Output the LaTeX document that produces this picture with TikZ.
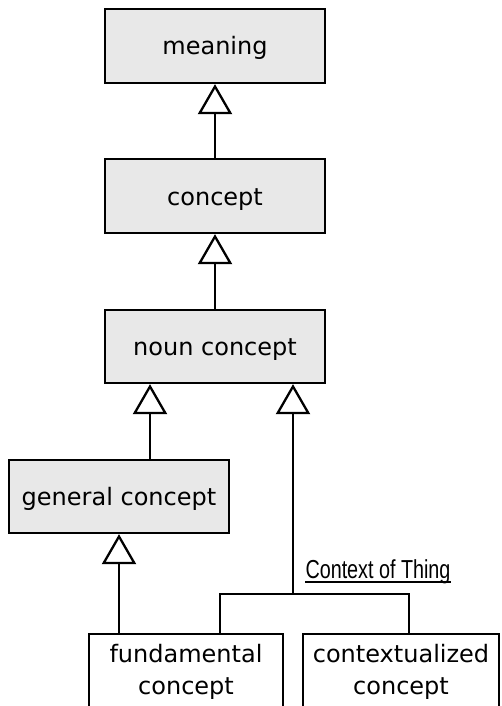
\documentclass[tikz,border=0pt]{standalone}
\usepackage{fontspec}
\setmainfont{DejaVu Sans}
\newfontfamily\narrowfont{Liberation Sans}[FakeStretch=0.76]
\usetikzlibrary{arrows.meta}
\definecolor{boxgray}{HTML}{E8E8E8}
\tikzset{
  classbox/.style={draw=black, line width=2.3pt, fill=boxgray, minimum width=220pt, minimum height=74pt, inner sep=0pt, text height=20pt, text depth=2pt, font=\fontsize{24}{28}\selectfont},
  plainbox/.style={draw=black, line width=2.3pt, fill=white, inner sep=0pt, align=center, font=\fontsize{24}{32}\selectfont},
  gen/.style={draw=black, line width=2.3pt, -{Triangle[open, length=30pt 0 0, width=34pt 0 0, fill=white]}},
  link/.style={draw=black, line width=2.3pt},
}
\begin{document}
\begin{tikzpicture}[x=1pt,y=-1pt]
\useasboundingbox (0,0) rectangle (501,706);
\begin{scope}
\clip (0,0) rectangle (501,706);
\node[classbox] (meaning) at (215,46) {meaning};
\node[classbox] (concept) at (215,196) {concept};
\node[classbox, minimum height=73pt] (noun) at (215,346.5) {noun concept};
\node[classbox, minimum height=73pt] (general) at (119,496.5) {general concept};
\node[plainbox, minimum width=194pt, minimum height=76pt] (fundamental) at (186,672) {fundamental\\concept};
\node[plainbox, minimum width=196pt, minimum height=76pt] (contextualized) at (401,672) {contextualized\\concept};

\coordinate (gx) at (150,0);
\coordinate (jn) at (293,594);
\coordinate (fx) at (220,0);
\coordinate (cx) at (409,0);

\draw[gen] (concept) -- (meaning);
\draw[gen] (noun) -- (concept);
\draw[gen] (general.north -| gx) -- (noun.south -| gx);
\draw[gen] (fundamental.north -| general.south) -- (general.south);
\draw[gen] (jn) -- (noun.south -| jn);
\draw[link] (fundamental.north -| fx) |- (jn) -| (contextualized.north -| cx);

\node[anchor=base, inner sep=0pt, font=\narrowfont\fontsize{26}{30}\selectfont] (ctx) at (378,578) {Context of Thing};
\draw[line width=1.4pt] ([yshift=-4pt]ctx.base west) -- ([yshift=-4pt]ctx.base east);
\end{scope}
\end{tikzpicture}
\end{document}
